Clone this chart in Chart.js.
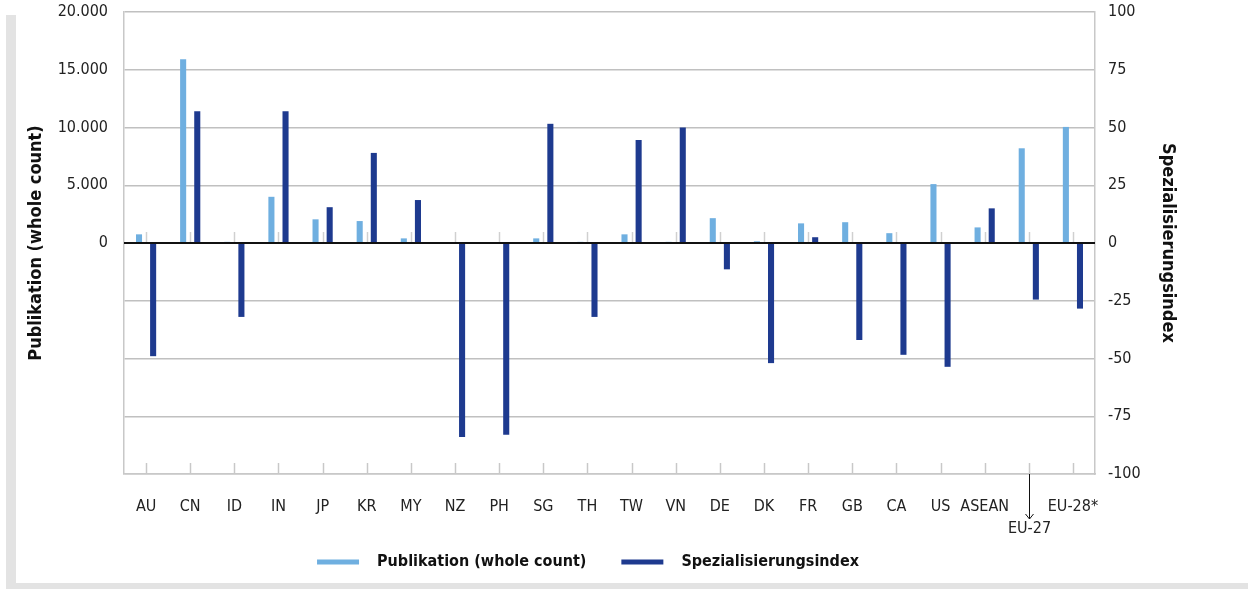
<!DOCTYPE html>
<html>
<head>
<meta charset="utf-8">
<script src="https://cdn.jsdelivr.net/npm/chart.js@4.4.1/dist/chart.umd.min.js"></script>
<style>
  html, body { margin: 0; padding: 0; background: #fff; }
  #wrap { position: relative; width: 1248px; height: 589px; overflow: hidden; }
  #frameLeft { position: absolute; left: 6px; top: 15px; width: 10px; height: 574px; background: #e3e3e3; }
  #frameBottom { position: absolute; left: 6px; top: 583px; width: 1242px; height: 6px; background: #e3e3e3; }
  canvas { position: absolute; left: 0; top: 0; }
</style>
</head>
<body>
<div id="wrap">
  <div id="frameLeft"></div>
  <div id="frameBottom"></div>
  <canvas id="chart" width="1248" height="589"></canvas>
</div>
<script>
// Categories on the x axis
const categories = ["AU", "CN", "ID", "IN", "JP", "KR", "MY", "NZ", "PH", "SG", "TH",
  "TW", "VN", "DE", "DK", "FR", "GB", "CA", "US", "ASEAN", "EU-27", "EU-28*"];

// Publications (whole count), left axis
const publications = [750, 15900, 100, 4000, 2050, 1900, 400, 80, 60, 400, 100,
  750, 100, 2150, 150, 1700, 1800, 850, 5100, 1350, 8200, 10050];

// Specialisation index, right axis
const specIndex = [-49, 57, -32, 57, 15.5, 39, 18.6, -84, -83, 51.6, -32,
  44.6, 50, -11.4, -52, 2.5, -42, -48.4, -53.6, 15, -24.5, -28.4];

// Tick settings
const pubTicks = { min: -20000, max: 20000, step: 5000 };
const specTicks = { min: -100, max: 100, step: 25 };

const FONT = "'DejaVu Sans Condensed', 'DejaVu Sans', sans-serif";
Chart.defaults.font.family = FONT;
Chart.defaults.color = "#222";

// format 20000 -> 20.000
function thousands(v) {
  return String(v).replace(/\B(?=(\d{3})+(?!\d))/g, ".");
}

// zero line, small category ticks and the EU-27 arrow label
const extras = {
  id: "extras",
  afterLayout(chart) {
    // legend sits a bit left of the centre in the original
    chart.legend.left -= 36;
    chart.legend.right -= 36;
  },
  afterDatasetsDraw(chart) {
    const { ctx, chartArea, scales } = chart;
    const zeroY = scales.y.getPixelForValue(0);
    ctx.save();
    ctx.lineWidth = 1.5;
    categories.forEach((c, i) => {
      const px = Math.round(scales.x.getPixelForValue(i)) + 0.5;
      ctx.strokeStyle = "#d0d0d0";
      ctx.beginPath();
      ctx.moveTo(px, zeroY - 11);
      ctx.lineTo(px, zeroY);
      ctx.stroke();
      ctx.strokeStyle = "#c8c8c8";
      ctx.beginPath();
      ctx.moveTo(px, chartArea.bottom - 11);
      ctx.lineTo(px, chartArea.bottom);
      ctx.stroke();
    });

    // black zero line over the bars
    ctx.strokeStyle = "#111";
    ctx.lineWidth = 2;
    ctx.beginPath();
    ctx.moveTo(chartArea.left, zeroY);
    ctx.lineTo(chartArea.right, zeroY);
    ctx.stroke();

    // EU-27 label below the axis with an arrow
    const euIdx = categories.indexOf("EU-27");
    const ex = Math.round(scales.x.getPixelForValue(euIdx)) + 0.5;
    const top = chartArea.bottom;
    ctx.strokeStyle = "#111";
    ctx.lineWidth = 1;
    ctx.beginPath();
    ctx.moveTo(ex, top);
    ctx.lineTo(ex, top + 45);
    ctx.moveTo(ex - 4, top + 40);
    ctx.lineTo(ex, top + 45);
    ctx.lineTo(ex + 4, top + 40);
    ctx.stroke();
    ctx.fillStyle = "#222";
    ctx.font = "16px " + FONT;
    ctx.textAlign = "center";
    ctx.textBaseline = "middle";
    ctx.fillText("EU-27", ex, top + 55);
    ctx.restore();
  }
};

// fix plot box: no extra room for half tick labels
function noPad(s) {
  s.paddingTop = 0;
  s.paddingBottom = 0;
}

const ctx = document.getElementById("chart").getContext("2d");
new Chart(ctx, {
  type: "bar",
  data: {
    labels: categories,
    datasets: [
      {
        label: "Publikation (whole count)",
        data: publications,
        backgroundColor: "#6fafe0",
        yAxisID: "y",
        categoryPercentage: 0.64,
        barPercentage: 0.43
      },
      {
        label: "Spezialisierungsindex",
        data: specIndex,
        backgroundColor: "#1e3a8f",
        yAxisID: "y1",
        categoryPercentage: 0.64,
        barPercentage: 0.43
      }
    ]
  },
  options: {
    responsive: false,
    animation: false,
    layout: { padding: { top: 12, right: 0, bottom: 9, left: 0 } },
    plugins: {
      tooltip: { enabled: false },
      legend: {
        position: "bottom",
        labels: {
          boxWidth: 42,
          boxHeight: 5,
          padding: 35,
          color: "#111",
          font: { size: 16, weight: "bold" },
          generateLabels: chart => {
            const items = Chart.defaults.plugins.legend.labels.generateLabels(chart);
            items.forEach(it => { it.text = "  " + it.text; it.lineWidth = 0; });
            return items;
          }
        }
      }
    },
    scales: {
      x: {
        grid: { display: false, drawTicks: false },
        border: { display: true, color: "#c8c8c8", width: 1.5 },
        ticks: {
          padding: 23,
          autoSkip: false,
          maxRotation: 0,
          font: { size: 16 },
          callback: (v, i) => (categories[i] === "EU-27" ? "" : categories[i])
        },
        afterFit: s => { s.height = 45; }
      },
      y: {
        position: "left",
        min: pubTicks.min,
        max: pubTicks.max,
        ticks: {
          stepSize: pubTicks.step,
          padding: 16,
          font: { size: 16 },
          callback: v => (v < 0 ? "" : thousands(v))
        },
        grid: { color: "#c0c0c0", lineWidth: 1.5, drawTicks: false },
        border: { color: "#c8c8c8", width: 1.5 },
        title: {
          display: true,
          text: "Publikation (whole count)",
          color: "#111",
          font: { size: 18, weight: "bold" },
          padding: { top: 26, bottom: 0 }
        },
        afterFit: s => { s.width = 124; noPad(s); }
      },
      y1: {
        position: "right",
        min: specTicks.min,
        max: specTicks.max,
        ticks: { stepSize: specTicks.step, padding: 13, font: { size: 16 } },
        grid: { drawOnChartArea: false, drawTicks: false },
        border: { color: "#c8c8c8", width: 1.5 },
        title: {
          display: true,
          text: "Spezialisierungsindex",
          color: "#111",
          font: { size: 18, weight: "bold" },
          padding: { top: 70, bottom: 0 }
        },
        afterFit: s => { s.width = 153; noPad(s); }
      }
    }
  },
  plugins: [extras]
});
</script>
</body>
</html>
